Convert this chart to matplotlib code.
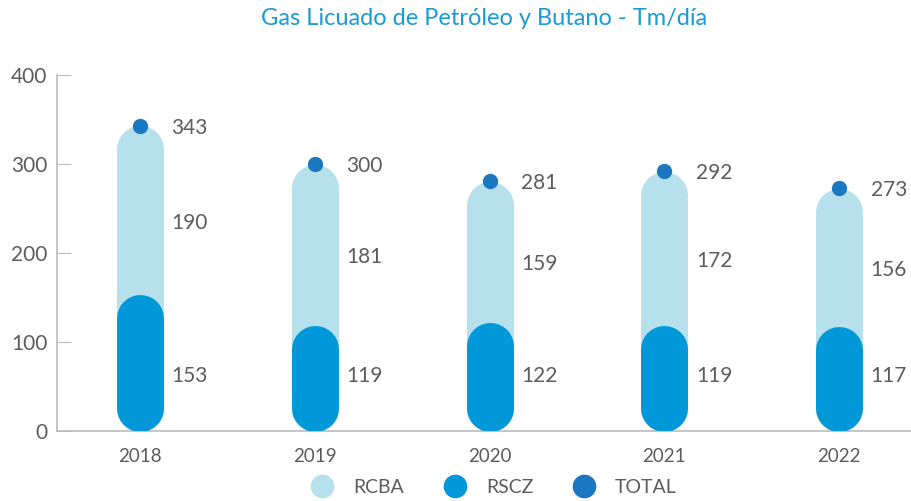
import matplotlib.pyplot as plt
from matplotlib.lines import Line2D

plt.rcParams['font.family'] = ['Lato', 'DejaVu Sans']

years = ['2018', '2019', '2020', '2021', '2022']
rcba = [190, 181, 159, 172, 156]
rscz = [153, 119, 122, 119, 117]
total = [343, 300, 281, 292, 273]

c_rcba = '#b5e0ec'
c_rscz = '#0098d9'
c_total = '#1b78c0'
grey = '#5c5c5c'

fig = plt.figure(figsize=(9.12, 5.01), dpi=100)
ax = fig.add_axes([0.0625, 0.1397, 0.9355, 0.7103])
ax.set_xlim(-0.474, 4.406)
ax.set_ylim(0, 400)

# bar width in pixels -> pill with round caps
bar_px = 47
lw = bar_px * 72 / fig.dpi
ax_h_px = ax.get_position().height * fig.get_figheight() * fig.dpi
r = (bar_px / 2) * 400 / ax_h_px  # cap radius in data units

xs = range(len(years))
for x, a, b, t in zip(xs, rcba, rscz, total):
    ax.plot([x, x], [r, t - r], color=c_rcba, lw=lw, solid_capstyle='round', zorder=2)
    ax.plot([x, x], [r, b - r], color=c_rscz, lw=lw, solid_capstyle='round', zorder=3)
    ax.plot(x, t, 'o', color=c_total, ms=10, zorder=4)
    ax.text(x + 0.18, t - 2, str(t), ha='left', va='center', fontsize=15,
            color=grey)
    ax.text(x + 0.18, (b + t) / 2 - 14, str(a), ha='left', va='center',
            fontsize=15, color=grey)
    ax.text(x + 0.18, 62, str(b), ha='left', va='center', fontsize=15,
            color=grey)

ax.set_xticks(list(xs))
ax.set_xticklabels(years, fontsize=13.5, color=grey)
ax.tick_params(axis='x', length=0, pad=12)
ax.set_yticks([0, 100, 200, 300, 400])
ax.tick_params(axis='y', direction='in', length=10, color='#bbbbbb',
               labelsize=15, labelcolor=grey, pad=7)

for s in ['top', 'right']:
    ax.spines[s].set_visible(False)
for s in ['left', 'bottom']:
    ax.spines[s].set_color('#bbbbbb')
    ax.spines[s].set_linewidth(1.2)

ax.set_title('Gas Licuado de Petróleo y Butano - Tm/día', color='#1a9ad6',
             fontsize=17, pad=36)

handles = [Line2D([], [], marker='o', ls='', ms=16, color=c) for c in (c_rcba, c_rscz, c_total)]
leg = fig.legend(handles, ['RCBA', 'RSCZ', 'TOTAL'], loc='lower center',
                 bbox_to_anchor=(0.537, -0.025), ncol=3, frameon=False,
                 fontsize=14, columnspacing=1.6, handletextpad=0.6)
for t in leg.get_texts():
    t.set_color(grey)

fig.savefig('out.png', dpi=100)
